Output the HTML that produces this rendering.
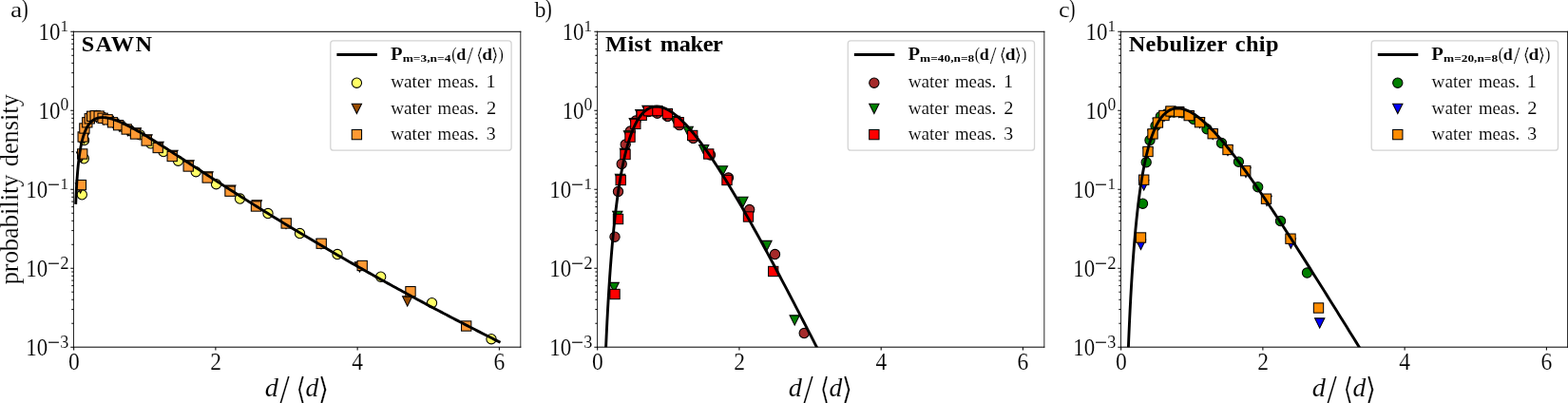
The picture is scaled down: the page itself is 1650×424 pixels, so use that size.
<!DOCTYPE html>
<html lang="en">
<head>
<meta charset="utf-8">
<title>Droplet size distributions</title>
<style>
html,body{margin:0;padding:0;background:#fff;}
body{width:1650px;height:424px;overflow:hidden;}
svg{display:block;}
text{white-space:pre;}
.t{stroke:#fff;stroke-width:0.16px;}
.u{stroke:#fff;stroke-width:0.1px;}
.v{stroke:#fff;stroke-width:0.3px;}
</style>
</head>
<body>
<svg width="1650" height="424" viewBox="0 0 1650 424" role="img" aria-label="Droplet size distributions">
<rect width="1650" height="424" fill="#fff"/>
<defs>
<clipPath id="c0"><rect x="77.5" y="33.3" width="470.3" height="331.9"/></clipPath>
<clipPath id="c1"><rect x="628.55" y="33.3" width="470.3" height="331.9"/></clipPath>
<clipPath id="c2"><rect x="1179.5" y="33.3" width="470.3" height="331.9"/></clipPath>
</defs>
<g>
<g clip-path="url(#c0)" stroke="#000" stroke-width="1.05">
<circle cx="86.3" cy="204.8" r="5.15" fill="#ffff66"/>
<circle cx="88.3" cy="166.8" r="5.15" fill="#ffff66"/>
<circle cx="88.6" cy="147.6" r="5.15" fill="#ffff66"/>
<circle cx="92.5" cy="127.2" r="5.15" fill="#ffff66"/>
<circle cx="95" cy="123.6" r="5.15" fill="#ffff66"/>
<circle cx="98" cy="121.6" r="5.15" fill="#ffff66"/>
<circle cx="101.5" cy="121.4" r="5.15" fill="#ffff66"/>
<circle cx="105.5" cy="122.3" r="5.15" fill="#ffff66"/>
<circle cx="110" cy="124.4" r="5.15" fill="#ffff66"/>
<circle cx="115.5" cy="126.6" r="5.15" fill="#ffff66"/>
<circle cx="121.5" cy="129.7" r="5.15" fill="#ffff66"/>
<circle cx="128.8" cy="133.3" r="5.15" fill="#ffff66"/>
<circle cx="137.3" cy="137.7" r="5.15" fill="#ffff66"/>
<circle cx="147.2" cy="141.8" r="5.15" fill="#ffff66"/>
<circle cx="158.7" cy="150.9" r="5.15" fill="#ffff66"/>
<circle cx="172" cy="159.5" r="5.15" fill="#ffff66"/>
<circle cx="187.5" cy="169.2" r="5.15" fill="#ffff66"/>
<circle cx="206.2" cy="180.7" r="5.15" fill="#ffff66"/>
<circle cx="227.5" cy="193.7" r="5.15" fill="#ffff66"/>
<circle cx="252.5" cy="209" r="5.15" fill="#ffff66"/>
<circle cx="282" cy="224.5" r="5.15" fill="#ffff66"/>
<circle cx="315.5" cy="245.5" r="5.15" fill="#ffff66"/>
<circle cx="355" cy="267.5" r="5.15" fill="#ffff66"/>
<circle cx="400.7" cy="291.2" r="5.15" fill="#ffff66"/>
<circle cx="454.5" cy="318.7" r="5.15" fill="#ffff66"/>
<circle cx="517" cy="356.7" r="5.15" fill="#ffff66"/>
<path d="M79.45 192.85L89.75 192.85L84.6 203.15Z" fill="#994c00"/>
<path d="M80.45 160.05L90.75 160.05L85.6 170.35Z" fill="#994c00"/>
<path d="M83.25 140.45L93.55 140.45L88.4 150.75Z" fill="#994c00"/>
<path d="M84.95 131.45L95.25 131.45L90.1 141.75Z" fill="#994c00"/>
<path d="M87.85 125.25L98.15 125.25L93 135.55Z" fill="#994c00"/>
<path d="M90.35 121.25L100.65 121.25L95.5 131.55Z" fill="#994c00"/>
<path d="M92.75 118.75L103.05 118.75L97.9 129.05Z" fill="#994c00"/>
<path d="M96.25 118.25L106.55 118.25L101.4 128.55Z" fill="#994c00"/>
<path d="M100.25 118.55L110.55 118.55L105.4 128.85Z" fill="#994c00"/>
<path d="M104.15 120.75L114.45 120.75L109.3 131.05Z" fill="#994c00"/>
<path d="M109.15 122.25L119.45 122.25L114.3 132.55Z" fill="#994c00"/>
<path d="M114.55 125.25L124.85 125.25L119.7 135.55Z" fill="#994c00"/>
<path d="M120.65 128.15L130.95 128.15L125.8 138.45Z" fill="#994c00"/>
<path d="M129.25 132.45L139.55 132.45L134.4 142.75Z" fill="#994c00"/>
<path d="M138.15 134.75L148.45 134.75L143.3 145.05Z" fill="#994c00"/>
<path d="M149.85 141.75L160.15 141.75L155 152.05Z" fill="#994c00"/>
<path d="M161.85 149.25L172.15 149.25L167 159.55Z" fill="#994c00"/>
<path d="M176.85 158.25L187.15 158.25L182 168.55Z" fill="#994c00"/>
<path d="M193.85 168.75L204.15 168.75L199 179.05Z" fill="#994c00"/>
<path d="M213.85 180.75L224.15 180.75L219 191.05Z" fill="#994c00"/>
<path d="M237.65 194.95L247.95 194.95L242.8 205.25Z" fill="#994c00"/>
<path d="M265.15 210.75L275.45 210.75L270.3 221.05Z" fill="#994c00"/>
<path d="M295.85 230.25L306.15 230.25L301 240.55Z" fill="#994c00"/>
<path d="M332.85 251.45L343.15 251.45L338 261.75Z" fill="#994c00"/>
<path d="M373.35 275.85L383.65 275.85L378.5 286.15Z" fill="#994c00"/>
<path d="M423.55 311.85L433.85 311.85L428.7 322.15Z" fill="#994c00"/>
<rect x="80.25" y="189.45" width="10.3" height="10.3" fill="#ff9933"/>
<rect x="81.55" y="156.85" width="10.3" height="10.3" fill="#ff9933"/>
<rect x="82.05" y="138.85" width="10.3" height="10.3" fill="#ff9933"/>
<rect x="83.75" y="129.85" width="10.3" height="10.3" fill="#ff9933"/>
<rect x="86.65" y="123.65" width="10.3" height="10.3" fill="#ff9933"/>
<rect x="89.15" y="119.65" width="10.3" height="10.3" fill="#ff9933"/>
<rect x="91.55" y="117.15" width="10.3" height="10.3" fill="#ff9933"/>
<rect x="95.05" y="116.65" width="10.3" height="10.3" fill="#ff9933"/>
<rect x="99.05" y="116.95" width="10.3" height="10.3" fill="#ff9933"/>
<rect x="102.95" y="119.15" width="10.3" height="10.3" fill="#ff9933"/>
<rect x="107.95" y="120.65" width="10.3" height="10.3" fill="#ff9933"/>
<rect x="113.35" y="123.65" width="10.3" height="10.3" fill="#ff9933"/>
<rect x="119.45" y="126.55" width="10.3" height="10.3" fill="#ff9933"/>
<rect x="128.05" y="130.85" width="10.3" height="10.3" fill="#ff9933"/>
<rect x="137.35" y="135.85" width="10.3" height="10.3" fill="#ff9933"/>
<rect x="149.05" y="142.85" width="10.3" height="10.3" fill="#ff9933"/>
<rect x="161.05" y="150.35" width="10.3" height="10.3" fill="#ff9933"/>
<rect x="176.05" y="159.35" width="10.3" height="10.3" fill="#ff9933"/>
<rect x="193.05" y="169.85" width="10.3" height="10.3" fill="#ff9933"/>
<rect x="213.05" y="181.85" width="10.3" height="10.3" fill="#ff9933"/>
<rect x="236.85" y="196.05" width="10.3" height="10.3" fill="#ff9933"/>
<rect x="264.35" y="211.85" width="10.3" height="10.3" fill="#ff9933"/>
<rect x="296.05" y="229.85" width="10.3" height="10.3" fill="#ff9933"/>
<rect x="333.05" y="251.05" width="10.3" height="10.3" fill="#ff9933"/>
<rect x="376.05" y="274.35" width="10.3" height="10.3" fill="#ff9933"/>
<rect x="426.85" y="301.55" width="10.3" height="10.3" fill="#ff9933"/>
<rect x="485.55" y="337.85" width="10.3" height="10.3" fill="#ff9933"/>
</g>
<polyline clip-path="url(#c0)" points="79.74,213.37 80.1,205.15 80.45,198.18 80.81,192.17 81.17,186.92 81.53,182.27 81.88,178.11 82.24,174.38 82.6,171 82.96,167.92 83.31,165.1 83.67,162.51 84.03,160.13 84.39,157.92 84.74,155.87 85.1,153.97 85.46,152.19 85.81,150.53 86.17,148.98 86.53,147.52 86.89,146.16 87.24,144.87 87.6,143.66 87.96,142.52 88.32,141.44 88.67,140.43 89.03,139.46 89.39,138.56 89.75,137.69 90.1,136.88 90.46,136.11 90.82,135.37 91.18,134.68 91.53,134.02 91.89,133.39 92.25,132.8 92.61,132.23 92.96,131.7 93.32,131.19 93.68,130.7 94.04,130.24 94.39,129.81 94.75,129.39 95.11,129 95.47,128.63 95.82,128.27 96.18,127.94 96.54,127.62 96.89,127.32 97.25,127.03 97.61,126.76 97.97,126.51 98.32,126.26 98.68,126.04 99.04,125.82 99.4,125.62 99.75,125.43 100.11,125.25 100.47,125.08 100.83,124.93 101.18,124.78 101.54,124.64 101.9,124.52 102.26,124.4 102.61,124.29 102.97,124.19 103.33,124.1 103.69,124.02 104.04,123.94 104.4,123.88 104.76,123.81 105.12,123.76 105.47,123.72 105.83,123.68 106.19,123.64 106.55,123.62 106.9,123.6 107.26,123.58 107.62,123.57 107.98,123.57 108.33,123.57 108.69,123.58 109.05,123.59 109.4,123.61 109.76,123.63 110.12,123.66 110.48,123.69 110.83,123.73 111.19,123.77 111.55,123.81 111.91,123.86 112.26,123.91 112.62,123.97 112.98,124.03 113.34,124.09 113.69,124.16 114.05,124.23 114.41,124.31 114.77,124.38 115.12,124.47 115.48,124.55 115.84,124.64 116.2,124.73 116.55,124.82 116.91,124.92 117.27,125.02 117.63,125.12 117.98,125.22 118.34,125.33 118.7,125.44 119.06,125.55 119.41,125.67 119.77,125.78 120.13,125.9 120.48,126.02 120.84,126.15 121.2,126.27 121.56,126.4 121.91,126.53 122.27,126.66 124.81,127.66 127.34,128.73 129.87,129.88 132.41,131.1 134.94,132.37 137.48,133.69 140.01,135.06 142.55,136.46 145.08,137.89 147.61,139.35 150.15,140.84 152.68,142.35 155.22,143.88 157.75,145.42 160.29,146.98 162.82,148.56 165.35,150.14 167.89,151.74 170.42,153.34 172.96,154.96 175.49,156.58 178.03,158.2 180.56,159.83 183.09,161.47 185.63,163.1 188.16,164.74 190.7,166.38 193.23,168.03 195.77,169.67 198.3,171.32 200.83,172.96 203.37,174.61 205.9,176.25 208.44,177.9 210.97,179.54 213.51,181.18 216.04,182.83 218.57,184.46 221.11,186.1 223.64,187.74 226.18,189.37 228.71,191 231.25,192.63 233.78,194.26 236.31,195.88 238.85,197.5 241.38,199.12 243.92,200.73 246.45,202.34 248.99,203.95 251.52,205.56 254.05,207.16 256.59,208.76 259.12,210.36 261.66,211.95 264.19,213.54 266.73,215.12 269.26,216.7 271.79,218.28 274.33,219.86 276.86,221.43 279.4,223 281.93,224.56 284.46,226.13 287,227.68 289.53,229.24 292.07,230.79 294.6,232.33 297.14,233.88 299.67,235.42 302.2,236.95 304.74,238.49 307.27,240.02 309.81,241.54 312.34,243.06 314.88,244.58 317.41,246.1 319.94,247.61 322.48,249.12 325.01,250.62 327.55,252.12 330.08,253.62 332.62,255.11 335.15,256.6 337.68,258.09 340.22,259.58 342.75,261.06 345.29,262.53 347.82,264.01 350.36,265.48 352.89,266.94 355.42,268.41 357.96,269.87 360.49,271.32 363.03,272.78 365.56,274.23 368.1,275.67 370.63,277.12 373.16,278.56 375.7,279.99 378.23,281.43 380.77,282.86 383.3,284.29 385.84,285.71 388.37,287.13 390.9,288.55 393.44,289.97 395.97,291.38 398.51,292.79 401.04,294.19 403.58,295.6 406.11,297 408.64,298.39 411.18,299.79 413.71,301.18 416.25,302.56 418.78,303.95 421.32,305.33 423.85,306.71 426.38,308.09 428.92,309.46 431.45,310.83 433.99,312.2 436.52,313.56 439.06,314.93 441.59,316.28 444.12,317.64 446.66,318.99 449.19,320.35 451.73,321.69 454.26,323.04 456.79,324.38 459.33,325.72 461.86,327.06 464.4,328.39 466.93,329.73 469.47,331.06 472,332.38 474.53,333.71 477.07,335.03 479.6,336.35 482.14,337.66 484.67,338.98 487.21,340.29 489.74,341.6 492.27,342.91 494.81,344.21 497.34,345.51 499.88,346.81 502.41,348.11 504.95,349.4 507.48,350.69 510.01,351.98 512.55,353.27 515.08,354.55 517.62,355.83 520.15,357.11 522.69,358.39 525.22,359.67" fill="none" stroke="#000" stroke-width="2.9" stroke-linejoin="round" stroke-linecap="square"/>
<path d="M77.5 365.2h-3.2M77.5 282.22h-3.2M77.5 199.25h-3.2M77.5 116.27h-3.2M77.5 33.3h-3.2M77.65 365.2v3.25M226.89 365.2v3.25M376.13 365.2v3.25M525.37 365.2v3.25" stroke="#000" stroke-width="1.05" fill="none"/>
<path d="M77.5 340.22h-2.2M77.5 325.61h-2.2M77.5 315.24h-2.2M77.5 307.2h-2.2M77.5 300.63h-2.2M77.5 295.08h-2.2M77.5 290.27h-2.2M77.5 286.02h-2.2M77.5 257.25h-2.2M77.5 242.64h-2.2M77.5 232.27h-2.2M77.5 224.23h-2.2M77.5 217.66h-2.2M77.5 212.1h-2.2M77.5 207.29h-2.2M77.5 203.05h-2.2M77.5 174.27h-2.2M77.5 159.66h-2.2M77.5 149.29h-2.2M77.5 141.25h-2.2M77.5 134.68h-2.2M77.5 129.13h-2.2M77.5 124.32h-2.2M77.5 120.07h-2.2M77.5 91.3h-2.2M77.5 76.69h-2.2M77.5 66.32h-2.2M77.5 58.28h-2.2M77.5 51.71h-2.2M77.5 46.15h-2.2M77.5 41.34h-2.2M77.5 37.1h-2.2" stroke="#000" stroke-width="1.0" fill="none"/>
<path d="M77.5 33.3V365.2M547.8 33.3V365.2" fill="none" stroke="#000" stroke-width="0.85" stroke-linecap="square"/>
<path d="M77.5 33.3H547.8M77.5 365.2H547.8" fill="none" stroke="#000" stroke-width="1" stroke-linecap="square"/>
<g fill="#000">
<text transform="translate(27.19 374.1) rotate(0.02) scale(0.9153 1)" class="t" font-family='"Liberation Serif", serif' font-size="25">10</text>
<text transform="translate(50.03 368.45) rotate(0.02) scale(1.3385 1.3768)" font-family='"Liberation Serif", serif' font-size="17.5">−</text>
<text transform="translate(63.23 365.62) rotate(0.02) scale(1.0375 1.0631)" class="u" font-family='"Liberation Serif", serif' font-size="17.5">3</text>
<text transform="translate(27.19 291.05) rotate(0.02) scale(0.9153 1)" class="t" font-family='"Liberation Serif", serif' font-size="25">10</text>
<text transform="translate(50.03 285.4) rotate(0.02) scale(1.3385 1.3768)" font-family='"Liberation Serif", serif' font-size="17.5">−</text>
<text transform="translate(63.28 282.75) rotate(0.02) scale(1.0691 1.0788)" class="u" font-family='"Liberation Serif", serif' font-size="17.5">2</text>
<text transform="translate(27.19 208) rotate(0.02) scale(0.9153 1)" class="t" font-family='"Liberation Serif", serif' font-size="25">10</text>
<text transform="translate(50.03 202.35) rotate(0.02) scale(1.3385 1.3768)" font-family='"Liberation Serif", serif' font-size="17.5">−</text>
<text transform="translate(63.4 198.7) rotate(0.02) scale(0.9739 0.9695)" class="u" font-family='"Liberation Serif", serif' font-size="17.5">1</text>
<text transform="translate(40.59 124.95) rotate(0.02) scale(0.9153 1)" class="t" font-family='"Liberation Serif", serif' font-size="25">10</text>
<text transform="translate(63.43 116.47) rotate(0.02) scale(1.0112 1.0585)" class="u" font-family='"Liberation Serif", serif' font-size="17.5">0</text>
<text transform="translate(40.59 41.9) rotate(0.02) scale(0.9153 1)" class="t" font-family='"Liberation Serif", serif' font-size="25">10</text>
<text transform="translate(63.4 32.6) rotate(0.02) scale(0.9739 0.9695)" class="u" font-family='"Liberation Serif", serif' font-size="17.5">1</text>
<text transform="translate(71.91 389) rotate(0.02) scale(0.9 1)" class="t" font-family='"Liberation Serif", serif' font-size="26.2">0</text>
<text transform="translate(221.28 389) rotate(0.02) scale(0.9 1)" class="t" font-family='"Liberation Serif", serif' font-size="26.2">2</text>
<text transform="translate(370.34 389) rotate(0.02) scale(0.9 1)" class="t" font-family='"Liberation Serif", serif' font-size="26.2">4</text>
<text transform="translate(519.47 389) rotate(0.02) scale(0.9 1)" class="t" font-family='"Liberation Serif", serif' font-size="26.2">6</text>
</g>
<text transform="translate(278.74 417.4) rotate(0.02) scale(1.0028 1)" class="u" font-family='"Liberation Serif", serif' font-size="28.3" font-style="italic">d</text>
<text transform="translate(294.4 423.99) rotate(0.02) scale(1.3112 1.5109)" class="u" font-family='"Liberation Serif", serif' font-size="28">/</text>
<text transform="translate(311.61 420.21) rotate(0.02) scale(0.9547 1.1348)" class="v" font-family='"DejaVu Sans", sans-serif' font-size="28">⟨</text>
<text transform="translate(321.57 417.4) rotate(0.02) scale(0.9729 1)" class="u" font-family='"Liberation Serif", serif' font-size="28.3" font-style="italic">d</text>
<text transform="translate(334.68 420.21) rotate(0.02) scale(1.0357 1.1348)" class="v" font-family='"DejaVu Sans", sans-serif' font-size="28">⟩</text>
<text transform="translate(85.7 53.55) rotate(0.02) scale(1.04 1)" font-family='"Liberation Serif", serif' font-size="23.4" font-weight="bold" letter-spacing="1.31">SAWN</text>
<text transform="translate(10.93 17.77) rotate(0.02) scale(1.1997 1.0075)" class="t" font-family='"Liberation Serif", serif' font-size="23">a</text>
<text transform="translate(22.48 17.82) rotate(0.02) scale(0.9247 1.1304)" class="t" font-family='"Liberation Serif", serif' font-size="24">)</text>
<rect x="347.8" y="42.9" width="190.3" height="115.3" rx="3" fill="#fff" fill-opacity="0.8" stroke="#d4d4d4" stroke-width="1.3"/>
<path d="M354.4 57.5h42.5" stroke="#000" stroke-width="3" fill="none"/>
<g stroke="#000" stroke-width="1.05">
<circle cx="375.4" cy="87.2" r="5.15" fill="#ffff66"/>
<path d="M370.25 109.25L380.55 109.25L375.4 119.55Z" fill="#994c00"/>
<rect x="370.25" y="136.45" width="10.3" height="10.3" fill="#ff9933"/>
</g>
<text transform="translate(410.95 62.6) rotate(0.02) scale(1.1369 1)" class="u" font-family='"Liberation Serif", serif' font-size="18.2" font-weight="bold">P</text>
<text transform="translate(423.64 64.8) rotate(0.02) scale(1.271 1)" font-family='"Liberation Serif", serif' font-size="10.6" font-weight="bold">m=3,n=4</text>
<text transform="translate(475.3 62.91) rotate(0.02) scale(0.939 1.1029)" class="u" font-family='"Liberation Serif", serif' font-size="17">(</text>
<text transform="translate(480.27 62.6) rotate(0.02) scale(1.0429 1)" class="u" font-family='"Liberation Serif", serif' font-size="17.3" font-weight="bold">d</text>
<text transform="translate(491.3 66.65) rotate(0.02) scale(1.4185 1.4949)" class="u" font-family='"Liberation Serif", serif' font-size="17">/</text>
<text transform="translate(501.12 64.38) rotate(0.02) scale(1.1727 1.1228)" class="v" font-family='"DejaVu Sans", sans-serif' font-size="17">⟨</text>
<text transform="translate(507.21 62.6) rotate(0.02) scale(1.1231 1)" class="u" font-family='"Liberation Serif", serif' font-size="17.3" font-weight="bold">d</text>
<text transform="translate(516.77 64.38) rotate(0.02) scale(1.1994 1.1228)" class="v" font-family='"DejaVu Sans", sans-serif' font-size="17">⟩</text>
<text transform="translate(524.59 62.91) rotate(0.02) scale(0.939 1.1029)" class="u" font-family='"Liberation Serif", serif' font-size="17">)</text>
<text transform="translate(411.18 92.35) rotate(0.02) scale(0.9909 1)" class="u" font-family='"Liberation Serif", serif' font-size="19.4">water</text>
<text transform="translate(460.51 92.35) rotate(0.02) scale(0.9692 1)" class="u" font-family='"Liberation Serif", serif' font-size="19.4">meas.</text>
<text transform="translate(511.43 92.35) rotate(0.02) scale(1.0396 1)" class="u" font-family='"Liberation Serif", serif' font-size="19.4">1</text>
<text transform="translate(411.18 119.75) rotate(0.02) scale(0.9909 1)" class="u" font-family='"Liberation Serif", serif' font-size="19.4">water</text>
<text transform="translate(460.51 119.75) rotate(0.02) scale(0.9692 1)" class="u" font-family='"Liberation Serif", serif' font-size="19.4">meas.</text>
<text transform="translate(511.9 119.75) rotate(0.02) scale(1.0544 1)" class="u" font-family='"Liberation Serif", serif' font-size="19.4">2</text>
<text transform="translate(411.18 147.25) rotate(0.02) scale(0.9909 1)" class="u" font-family='"Liberation Serif", serif' font-size="19.4">water</text>
<text transform="translate(460.51 147.25) rotate(0.02) scale(0.9692 1)" class="u" font-family='"Liberation Serif", serif' font-size="19.4">meas.</text>
<text transform="translate(511.85 147.25) rotate(0.02) scale(1.0232 1)" class="u" font-family='"Liberation Serif", serif' font-size="19.4">3</text>
</g>
<g>
<g clip-path="url(#c1)" stroke="#000" stroke-width="1.05">
<circle cx="647" cy="249.2" r="5.15" fill="#a52a2a"/>
<circle cx="650.5" cy="201.5" r="5.15" fill="#a52a2a"/>
<circle cx="654.2" cy="172.5" r="5.15" fill="#a52a2a"/>
<circle cx="658.2" cy="152" r="5.15" fill="#a52a2a"/>
<circle cx="663.3" cy="138" r="5.15" fill="#a52a2a"/>
<circle cx="669" cy="127" r="5.15" fill="#a52a2a"/>
<circle cx="675" cy="120.6" r="5.15" fill="#a52a2a"/>
<circle cx="682.5" cy="117.6" r="5.15" fill="#a52a2a"/>
<circle cx="691.7" cy="119.2" r="5.15" fill="#a52a2a"/>
<circle cx="702.5" cy="122.5" r="5.15" fill="#a52a2a"/>
<circle cx="715" cy="131.7" r="5.15" fill="#a52a2a"/>
<circle cx="729.5" cy="145.5" r="5.15" fill="#a52a2a"/>
<circle cx="747.5" cy="163" r="5.15" fill="#a52a2a"/>
<circle cx="766.5" cy="187" r="5.15" fill="#a52a2a"/>
<circle cx="788.7" cy="220.5" r="5.15" fill="#a52a2a"/>
<circle cx="815.5" cy="267.5" r="5.15" fill="#a52a2a"/>
<circle cx="846.2" cy="350.5" r="5.15" fill="#a52a2a"/>
<path d="M641.05 297.35L651.35 297.35L646.2 307.65Z" fill="#008000"/>
<path d="M644.65 222.15L654.95 222.15L649.8 232.45Z" fill="#008000"/>
<path d="M647.35 183.25L657.65 183.25L652.5 193.55Z" fill="#008000"/>
<path d="M652.35 156.35L662.65 156.35L657.5 166.65Z" fill="#008000"/>
<path d="M656.35 137.85L666.65 137.85L661.5 148.15Z" fill="#008000"/>
<path d="M662.15 124.45L672.45 124.45L667.3 134.75Z" fill="#008000"/>
<path d="M668.65 115.55L678.95 115.55L673.8 125.85Z" fill="#008000"/>
<path d="M675.85 111.15L686.15 111.15L681 121.45Z" fill="#008000"/>
<path d="M685.85 112.05L696.15 112.05L691 122.35Z" fill="#008000"/>
<path d="M695.15 115.65L705.45 115.65L700.3 125.95Z" fill="#008000"/>
<path d="M705.35 122.35L715.65 122.35L710.5 132.65Z" fill="#008000"/>
<path d="M719.05 133.15L729.35 133.15L724.2 143.45Z" fill="#008000"/>
<path d="M735.55 152.45L745.85 152.45L740.7 162.75Z" fill="#008000"/>
<path d="M755.35 174.65L765.65 174.65L760.5 184.95Z" fill="#008000"/>
<path d="M776.75 207.25L787.05 207.25L781.9 217.55Z" fill="#008000"/>
<path d="M801.85 253.35L812.15 253.35L807 263.65Z" fill="#008000"/>
<path d="M831.05 331.85L841.35 331.85L836.2 342.15Z" fill="#008000"/>
<rect x="641.85" y="304.35" width="10.3" height="10.3" fill="#ff0000"/>
<rect x="645.35" y="225.35" width="10.3" height="10.3" fill="#ff0000"/>
<rect x="648.05" y="184.35" width="10.3" height="10.3" fill="#ff0000"/>
<rect x="652.85" y="157.35" width="10.3" height="10.3" fill="#ff0000"/>
<rect x="657.85" y="139.05" width="10.3" height="10.3" fill="#ff0000"/>
<rect x="663.65" y="125.25" width="10.3" height="10.3" fill="#ff0000"/>
<rect x="670.05" y="116.15" width="10.3" height="10.3" fill="#ff0000"/>
<rect x="677.35" y="111.55" width="10.3" height="10.3" fill="#ff0000"/>
<rect x="686.75" y="111.45" width="10.3" height="10.3" fill="#ff0000"/>
<rect x="697.25" y="114.45" width="10.3" height="10.3" fill="#ff0000"/>
<rect x="709.05" y="123.55" width="10.3" height="10.3" fill="#ff0000"/>
<rect x="723.55" y="137.35" width="10.3" height="10.3" fill="#ff0000"/>
<rect x="740.55" y="156.85" width="10.3" height="10.3" fill="#ff0000"/>
<rect x="759.85" y="184.35" width="10.3" height="10.3" fill="#ff0000"/>
<rect x="782.35" y="222.85" width="10.3" height="10.3" fill="#ff0000"/>
<rect x="808.55" y="280.35" width="10.3" height="10.3" fill="#ff0000"/>
</g>
<polyline clip-path="url(#c1)" points="636.07,404.61 636.42,394.97 636.76,385.81 637.11,377.09 637.45,368.78 637.8,360.85 638.14,353.26 638.49,346 638.83,339.04 639.18,332.37 639.52,325.95 639.87,319.79 640.21,313.85 640.56,308.14 640.9,302.63 641.25,297.31 641.59,292.18 641.94,287.22 642.28,282.43 642.63,277.79 642.97,273.31 643.32,268.96 643.66,264.76 644.01,260.68 644.35,256.72 644.7,252.88 645.04,249.16 645.39,245.54 645.73,242.03 646.08,238.62 646.42,235.3 646.77,232.08 647.11,228.94 647.46,225.89 647.8,222.92 648.15,220.03 648.49,217.21 648.84,214.47 649.18,211.8 649.53,209.2 649.87,206.66 650.21,204.19 650.56,201.78 650.9,199.43 651.25,197.14 651.59,194.91 651.94,192.73 652.28,190.6 652.63,188.53 652.97,186.5 653.32,184.52 653.66,182.59 654.01,180.71 654.35,178.87 654.7,177.07 655.04,175.32 655.39,173.6 655.73,171.93 656.08,170.29 656.42,168.7 656.77,167.14 657.11,165.61 657.46,164.12 657.8,162.67 658.15,161.25 658.49,159.86 658.84,158.5 659.18,157.17 659.53,155.87 659.87,154.61 660.22,153.37 660.56,152.16 660.91,150.98 661.25,149.82 661.6,148.69 661.94,147.59 662.29,146.51 662.63,145.46 662.98,144.43 663.32,143.43 663.67,142.44 664.01,141.48 664.36,140.55 664.7,139.63 665.04,138.74 665.39,137.87 665.73,137.01 666.08,136.18 666.42,135.37 666.77,134.58 667.11,133.8 667.46,133.05 667.8,132.31 668.15,131.59 668.49,130.89 668.84,130.2 669.18,129.54 669.53,128.88 669.87,128.25 670.22,127.63 670.56,127.03 670.91,126.44 671.25,125.87 671.6,125.31 671.94,124.77 672.29,124.24 672.63,123.73 672.98,123.23 673.32,122.74 675.86,119.58 678.39,117.05 680.92,115.11 683.46,113.69 685.99,112.74 688.53,112.2 691.06,112.05 693.6,112.26 696.13,112.78 698.66,113.59 701.2,114.67 703.73,116 706.27,117.56 708.8,119.32 711.34,121.29 713.87,123.43 716.4,125.75 718.94,128.22 721.47,130.84 724.01,133.6 726.54,136.48 729.08,139.48 731.61,142.6 734.14,145.82 736.68,149.14 739.21,152.56 741.75,156.06 744.28,159.65 746.82,163.31 749.35,167.04 751.88,170.85 754.42,174.72 756.95,178.66 759.49,182.65 762.02,186.7 764.56,190.8 767.09,194.95 769.62,199.14 772.16,203.38 774.69,207.67 777.23,211.99 779.76,216.35 782.3,220.75 784.83,225.19 787.36,229.65 789.9,234.15 792.43,238.67 794.97,243.23 797.5,247.81 800.04,252.42 802.57,257.05 805.1,261.7 807.64,266.37 810.17,271.07 812.71,275.78 815.24,280.52 817.78,285.27 820.31,290.04 822.84,294.82 825.38,299.62 827.91,304.43 830.45,309.26 832.98,314.1 835.51,318.95 838.05,323.82 840.58,328.69 843.12,333.58 845.65,338.47 848.19,343.38 850.72,348.29 853.25,353.21 855.79,358.14 858.32,363.08 860.86,368.03 863.39,372.98 865.93,377.93 868.46,382.9 870.99,387.86 873.53,392.84 876.06,397.82 878.6,402.8" fill="none" stroke="#000" stroke-width="2.9" stroke-linejoin="round" stroke-linecap="square"/>
<path d="M628.55 365.2h-3.2M628.55 282.22h-3.2M628.55 199.25h-3.2M628.55 116.27h-3.2M628.55 33.3h-3.2M628.7 365.2v3.25M777.94 365.2v3.25M927.18 365.2v3.25M1076.42 365.2v3.25" stroke="#000" stroke-width="1.05" fill="none"/>
<path d="M628.55 340.22h-2.2M628.55 325.61h-2.2M628.55 315.24h-2.2M628.55 307.2h-2.2M628.55 300.63h-2.2M628.55 295.08h-2.2M628.55 290.27h-2.2M628.55 286.02h-2.2M628.55 257.25h-2.2M628.55 242.64h-2.2M628.55 232.27h-2.2M628.55 224.23h-2.2M628.55 217.66h-2.2M628.55 212.1h-2.2M628.55 207.29h-2.2M628.55 203.05h-2.2M628.55 174.27h-2.2M628.55 159.66h-2.2M628.55 149.29h-2.2M628.55 141.25h-2.2M628.55 134.68h-2.2M628.55 129.13h-2.2M628.55 124.32h-2.2M628.55 120.07h-2.2M628.55 91.3h-2.2M628.55 76.69h-2.2M628.55 66.32h-2.2M628.55 58.28h-2.2M628.55 51.71h-2.2M628.55 46.15h-2.2M628.55 41.34h-2.2M628.55 37.1h-2.2" stroke="#000" stroke-width="1.0" fill="none"/>
<path d="M628.55 33.3V365.2M1098.85 33.3V365.2" fill="none" stroke="#000" stroke-width="0.85" stroke-linecap="square"/>
<path d="M628.55 33.3H1098.85M628.55 365.2H1098.85" fill="none" stroke="#000" stroke-width="1" stroke-linecap="square"/>
<g fill="#000">
<text transform="translate(578.24 374.1) rotate(0.02) scale(0.9153 1)" class="t" font-family='"Liberation Serif", serif' font-size="25">10</text>
<text transform="translate(601.08 368.45) rotate(0.02) scale(1.3385 1.3768)" font-family='"Liberation Serif", serif' font-size="17.5">−</text>
<text transform="translate(614.28 365.62) rotate(0.02) scale(1.0375 1.0631)" class="u" font-family='"Liberation Serif", serif' font-size="17.5">3</text>
<text transform="translate(578.24 291.05) rotate(0.02) scale(0.9153 1)" class="t" font-family='"Liberation Serif", serif' font-size="25">10</text>
<text transform="translate(601.08 285.4) rotate(0.02) scale(1.3385 1.3768)" font-family='"Liberation Serif", serif' font-size="17.5">−</text>
<text transform="translate(614.33 282.75) rotate(0.02) scale(1.0691 1.0788)" class="u" font-family='"Liberation Serif", serif' font-size="17.5">2</text>
<text transform="translate(578.24 208) rotate(0.02) scale(0.9153 1)" class="t" font-family='"Liberation Serif", serif' font-size="25">10</text>
<text transform="translate(601.08 202.35) rotate(0.02) scale(1.3385 1.3768)" font-family='"Liberation Serif", serif' font-size="17.5">−</text>
<text transform="translate(614.45 198.7) rotate(0.02) scale(0.9739 0.9695)" class="u" font-family='"Liberation Serif", serif' font-size="17.5">1</text>
<text transform="translate(591.64 124.95) rotate(0.02) scale(0.9153 1)" class="t" font-family='"Liberation Serif", serif' font-size="25">10</text>
<text transform="translate(614.48 116.47) rotate(0.02) scale(1.0112 1.0585)" class="u" font-family='"Liberation Serif", serif' font-size="17.5">0</text>
<text transform="translate(591.64 41.9) rotate(0.02) scale(0.9153 1)" class="t" font-family='"Liberation Serif", serif' font-size="25">10</text>
<text transform="translate(614.45 32.6) rotate(0.02) scale(0.9739 0.9695)" class="u" font-family='"Liberation Serif", serif' font-size="17.5">1</text>
<text transform="translate(622.95 389) rotate(0.02) scale(0.9 1)" class="t" font-family='"Liberation Serif", serif' font-size="26.2">0</text>
<text transform="translate(772.33 389) rotate(0.02) scale(0.9 1)" class="t" font-family='"Liberation Serif", serif' font-size="26.2">2</text>
<text transform="translate(921.39 389) rotate(0.02) scale(0.9 1)" class="t" font-family='"Liberation Serif", serif' font-size="26.2">4</text>
<text transform="translate(1070.52 389) rotate(0.02) scale(0.9 1)" class="t" font-family='"Liberation Serif", serif' font-size="26.2">6</text>
</g>
<text transform="translate(829.79 417.4) rotate(0.02) scale(1.0028 1)" class="u" font-family='"Liberation Serif", serif' font-size="28.3" font-style="italic">d</text>
<text transform="translate(845.45 423.99) rotate(0.02) scale(1.3112 1.5109)" class="u" font-family='"Liberation Serif", serif' font-size="28">/</text>
<text transform="translate(862.66 420.21) rotate(0.02) scale(0.9547 1.1348)" class="v" font-family='"DejaVu Sans", sans-serif' font-size="28">⟨</text>
<text transform="translate(872.62 417.4) rotate(0.02) scale(0.9729 1)" class="u" font-family='"Liberation Serif", serif' font-size="28.3" font-style="italic">d</text>
<text transform="translate(885.73 420.21) rotate(0.02) scale(1.0357 1.1348)" class="v" font-family='"DejaVu Sans", sans-serif' font-size="28">⟩</text>
<text transform="translate(637.08 53.55) rotate(0.02) scale(1.04 1)" font-family='"Liberation Serif", serif' font-size="23.4" font-weight="bold" letter-spacing="0.36">Mist</text>
<text transform="translate(694.75 53.55) rotate(0.02) scale(1.04 1)" font-family='"Liberation Serif", serif' font-size="23.4" font-weight="bold" letter-spacing="-0.34">maker</text>
<text transform="translate(562.5 17.97) rotate(0.02) scale(1.0448 1.0443)" class="t" font-family='"Liberation Serif", serif' font-size="23">b</text>
<text transform="translate(573.58 17.82) rotate(0.02) scale(0.9247 1.1304)" class="t" font-family='"Liberation Serif", serif' font-size="24">)</text>
<rect x="892.25" y="42.9" width="196.3" height="115.3" rx="3" fill="#fff" fill-opacity="0.8" stroke="#d4d4d4" stroke-width="1.3"/>
<path d="M898.85 57.5h42.5" stroke="#000" stroke-width="3" fill="none"/>
<g stroke="#000" stroke-width="1.05">
<circle cx="919.85" cy="87.2" r="5.15" fill="#a52a2a"/>
<path d="M914.7 109.25L925 109.25L919.85 119.55Z" fill="#008000"/>
<rect x="914.7" y="136.45" width="10.3" height="10.3" fill="#ff0000"/>
</g>
<text transform="translate(955.4 62.6) rotate(0.02) scale(1.1369 1)" class="u" font-family='"Liberation Serif", serif' font-size="18.2" font-weight="bold">P</text>
<text transform="translate(968.09 64.8) rotate(0.02) scale(1.259 1)" font-family='"Liberation Serif", serif' font-size="10.6" font-weight="bold">m=40,n=8</text>
<text transform="translate(1025.75 62.91) rotate(0.02) scale(0.939 1.1029)" class="u" font-family='"Liberation Serif", serif' font-size="17">(</text>
<text transform="translate(1030.72 62.6) rotate(0.02) scale(1.0429 1)" class="u" font-family='"Liberation Serif", serif' font-size="17.3" font-weight="bold">d</text>
<text transform="translate(1041.75 66.65) rotate(0.02) scale(1.4185 1.4949)" class="u" font-family='"Liberation Serif", serif' font-size="17">/</text>
<text transform="translate(1051.57 64.38) rotate(0.02) scale(1.1727 1.1228)" class="v" font-family='"DejaVu Sans", sans-serif' font-size="17">⟨</text>
<text transform="translate(1057.66 62.6) rotate(0.02) scale(1.1231 1)" class="u" font-family='"Liberation Serif", serif' font-size="17.3" font-weight="bold">d</text>
<text transform="translate(1067.22 64.38) rotate(0.02) scale(1.1994 1.1228)" class="v" font-family='"DejaVu Sans", sans-serif' font-size="17">⟩</text>
<text transform="translate(1075.04 62.91) rotate(0.02) scale(0.939 1.1029)" class="u" font-family='"Liberation Serif", serif' font-size="17">)</text>
<text transform="translate(955.63 92.35) rotate(0.02) scale(0.9909 1)" class="u" font-family='"Liberation Serif", serif' font-size="19.4">water</text>
<text transform="translate(1004.96 92.35) rotate(0.02) scale(0.9692 1)" class="u" font-family='"Liberation Serif", serif' font-size="19.4">meas.</text>
<text transform="translate(1055.88 92.35) rotate(0.02) scale(1.0396 1)" class="u" font-family='"Liberation Serif", serif' font-size="19.4">1</text>
<text transform="translate(955.63 119.75) rotate(0.02) scale(0.9909 1)" class="u" font-family='"Liberation Serif", serif' font-size="19.4">water</text>
<text transform="translate(1004.96 119.75) rotate(0.02) scale(0.9692 1)" class="u" font-family='"Liberation Serif", serif' font-size="19.4">meas.</text>
<text transform="translate(1056.35 119.75) rotate(0.02) scale(1.0544 1)" class="u" font-family='"Liberation Serif", serif' font-size="19.4">2</text>
<text transform="translate(955.63 147.25) rotate(0.02) scale(0.9909 1)" class="u" font-family='"Liberation Serif", serif' font-size="19.4">water</text>
<text transform="translate(1004.96 147.25) rotate(0.02) scale(0.9692 1)" class="u" font-family='"Liberation Serif", serif' font-size="19.4">meas.</text>
<text transform="translate(1056.3 147.25) rotate(0.02) scale(1.0232 1)" class="u" font-family='"Liberation Serif", serif' font-size="19.4">3</text>
</g>
<g>
<g clip-path="url(#c2)" stroke="#000" stroke-width="1.05">
<circle cx="1202.5" cy="214.2" r="5.15" fill="#008000"/>
<circle cx="1206.2" cy="170.7" r="5.15" fill="#008000"/>
<circle cx="1210" cy="147.5" r="5.15" fill="#008000"/>
<circle cx="1216" cy="132.6" r="5.15" fill="#008000"/>
<circle cx="1221.3" cy="122.6" r="5.15" fill="#008000"/>
<circle cx="1228" cy="119.6" r="5.15" fill="#008000"/>
<circle cx="1235" cy="118" r="5.15" fill="#008000"/>
<circle cx="1244" cy="118.8" r="5.15" fill="#008000"/>
<circle cx="1256.2" cy="125.5" r="5.15" fill="#008000"/>
<circle cx="1270" cy="135.7" r="5.15" fill="#008000"/>
<circle cx="1285.5" cy="150.5" r="5.15" fill="#008000"/>
<circle cx="1303.4" cy="170.2" r="5.15" fill="#008000"/>
<circle cx="1323.7" cy="196.7" r="5.15" fill="#008000"/>
<circle cx="1347.5" cy="232.5" r="5.15" fill="#008000"/>
<circle cx="1375.5" cy="287" r="5.15" fill="#008000"/>
<path d="M1195.35 252.35L1205.65 252.35L1200.5 262.65Z" fill="#0000ff"/>
<path d="M1198.55 189.85L1208.85 189.85L1203.7 200.15Z" fill="#0000ff"/>
<path d="M1202.85 155.85L1213.15 155.85L1208 166.15Z" fill="#0000ff"/>
<path d="M1207.85 136.65L1218.15 136.65L1213 146.95Z" fill="#0000ff"/>
<path d="M1213.25 124.75L1223.55 124.75L1218.4 135.05Z" fill="#0000ff"/>
<path d="M1219.85 117.25L1230.15 117.25L1225 127.55Z" fill="#0000ff"/>
<path d="M1226.85 112.75L1237.15 112.75L1232 123.05Z" fill="#0000ff"/>
<path d="M1235.45 113.35L1245.75 113.35L1240.6 123.65Z" fill="#0000ff"/>
<path d="M1246.05 117.35L1256.35 117.35L1251.2 127.65Z" fill="#0000ff"/>
<path d="M1257.35 124.35L1267.65 124.35L1262.5 134.65Z" fill="#0000ff"/>
<path d="M1271.05 136.35L1281.35 136.35L1276.2 146.65Z" fill="#0000ff"/>
<path d="M1286.85 153.35L1297.15 153.35L1292 163.65Z" fill="#0000ff"/>
<path d="M1305.85 176.35L1316.15 176.35L1311 186.65Z" fill="#0000ff"/>
<path d="M1327.85 206.35L1338.15 206.35L1333 216.65Z" fill="#0000ff"/>
<path d="M1353.25 251.05L1363.55 251.05L1358.4 261.35Z" fill="#0000ff"/>
<path d="M1383.55 334.85L1393.85 334.85L1388.7 345.15Z" fill="#0000ff"/>
<rect x="1195.35" y="244.85" width="10.3" height="10.3" fill="#ff8c00"/>
<rect x="1198.55" y="184.05" width="10.3" height="10.3" fill="#ff8c00"/>
<rect x="1202.85" y="154.35" width="10.3" height="10.3" fill="#ff8c00"/>
<rect x="1207.85" y="135.75" width="10.3" height="10.3" fill="#ff8c00"/>
<rect x="1213.25" y="123.85" width="10.3" height="10.3" fill="#ff8c00"/>
<rect x="1219.85" y="116.35" width="10.3" height="10.3" fill="#ff8c00"/>
<rect x="1226.85" y="111.85" width="10.3" height="10.3" fill="#ff8c00"/>
<rect x="1235.45" y="112.45" width="10.3" height="10.3" fill="#ff8c00"/>
<rect x="1246.05" y="116.45" width="10.3" height="10.3" fill="#ff8c00"/>
<rect x="1257.35" y="123.55" width="10.3" height="10.3" fill="#ff8c00"/>
<rect x="1271.05" y="135.55" width="10.3" height="10.3" fill="#ff8c00"/>
<rect x="1286.85" y="152.35" width="10.3" height="10.3" fill="#ff8c00"/>
<rect x="1305.55" y="174.55" width="10.3" height="10.3" fill="#ff8c00"/>
<rect x="1327.35" y="204.05" width="10.3" height="10.3" fill="#ff8c00"/>
<rect x="1352.85" y="246.05" width="10.3" height="10.3" fill="#ff8c00"/>
<rect x="1382.35" y="318.85" width="10.3" height="10.3" fill="#ff8c00"/>
</g>
<polyline clip-path="url(#c2)" points="1186.33,395.59 1186.68,385.34 1187.02,375.65 1187.37,366.49 1187.71,357.81 1188.06,349.56 1188.4,341.71 1188.75,334.23 1189.09,327.09 1189.44,320.27 1189.78,313.75 1190.13,307.5 1190.47,301.51 1190.82,295.75 1191.16,290.23 1191.51,284.92 1191.85,279.8 1192.2,274.88 1192.54,270.13 1192.89,265.56 1193.23,261.14 1193.58,256.88 1193.92,252.76 1194.27,248.77 1194.61,244.92 1194.96,241.19 1195.3,237.58 1195.65,234.09 1195.99,230.7 1196.34,227.41 1196.68,224.23 1197.03,221.14 1197.37,218.14 1197.72,215.23 1198.06,212.4 1198.41,209.66 1198.75,206.99 1199.1,204.4 1199.44,201.88 1199.79,199.43 1200.13,197.04 1200.48,194.72 1200.82,192.47 1201.16,190.27 1201.51,188.13 1201.85,186.05 1202.2,184.03 1202.54,182.05 1202.89,180.13 1203.23,178.26 1203.58,176.43 1203.92,174.65 1204.27,172.92 1204.61,171.23 1204.96,169.59 1205.3,167.98 1205.65,166.42 1205.99,164.89 1206.34,163.4 1206.68,161.95 1207.03,160.54 1207.37,159.16 1207.72,157.81 1208.06,156.5 1208.41,155.22 1208.75,153.97 1209.1,152.75 1209.44,151.56 1209.79,150.4 1210.13,149.27 1210.48,148.17 1210.82,147.09 1211.17,146.04 1211.51,145.02 1211.86,144.02 1212.2,143.04 1212.55,142.09 1212.89,141.17 1213.24,140.26 1213.58,139.38 1213.93,138.52 1214.27,137.68 1214.62,136.87 1214.96,136.07 1215.31,135.29 1215.65,134.53 1215.99,133.8 1216.34,133.08 1216.68,132.38 1217.03,131.69 1217.37,131.03 1217.72,130.38 1218.06,129.75 1218.41,129.14 1218.75,128.54 1219.1,127.96 1219.44,127.39 1219.79,126.84 1220.13,126.31 1220.48,125.79 1220.82,125.28 1221.17,124.79 1221.51,124.31 1221.86,123.85 1222.2,123.4 1222.55,122.96 1222.89,122.53 1223.24,122.12 1223.58,121.72 1223.93,121.34 1224.27,120.96 1226.81,118.56 1229.34,116.72 1231.87,115.39 1234.41,114.5 1236.94,114.01 1239.48,113.88 1242.01,114.08 1244.55,114.57 1247.08,115.32 1249.61,116.32 1252.15,117.53 1254.68,118.95 1257.22,120.56 1259.75,122.33 1262.29,124.27 1264.82,126.35 1267.35,128.56 1269.89,130.89 1272.42,133.34 1274.96,135.9 1277.49,138.56 1280.03,141.3 1282.56,144.14 1285.09,147.05 1287.63,150.04 1290.16,153.1 1292.7,156.23 1295.23,159.41 1297.77,162.66 1300.3,165.95 1302.83,169.3 1305.37,172.7 1307.9,176.13 1310.44,179.61 1312.97,183.13 1315.51,186.69 1318.04,190.28 1320.57,193.9 1323.11,197.56 1325.64,201.24 1328.18,204.95 1330.71,208.68 1333.25,212.44 1335.78,216.22 1338.31,220.02 1340.85,223.85 1343.38,227.69 1345.92,231.55 1348.45,235.42 1350.99,239.31 1353.52,243.22 1356.05,247.13 1358.59,251.07 1361.12,255.01 1363.66,258.96 1366.19,262.93 1368.73,266.9 1371.26,270.89 1373.79,274.88 1376.33,278.88 1378.86,282.89 1381.4,286.91 1383.93,290.93 1386.46,294.96 1389,298.99 1391.53,303.03 1394.07,307.07 1396.6,311.12 1399.14,315.17 1401.67,319.22 1404.2,323.28 1406.74,327.34 1409.27,331.4 1411.81,335.47 1414.34,339.53 1416.88,343.6 1419.41,347.67 1421.94,351.74 1424.48,355.82 1427.01,359.89 1429.55,363.96 1432.08,368.04 1434.62,372.11 1437.15,376.18 1439.68,380.26 1442.22,384.33 1444.75,388.4 1447.29,392.47 1449.82,396.54 1452.36,400.61 1454.89,404.68" fill="none" stroke="#000" stroke-width="2.9" stroke-linejoin="round" stroke-linecap="square"/>
<path d="M1179.5 365.2h-3.2M1179.5 282.22h-3.2M1179.5 199.25h-3.2M1179.5 116.27h-3.2M1179.5 33.3h-3.2M1179.65 365.2v3.25M1328.89 365.2v3.25M1478.13 365.2v3.25M1627.37 365.2v3.25" stroke="#000" stroke-width="1.05" fill="none"/>
<path d="M1179.5 340.22h-2.2M1179.5 325.61h-2.2M1179.5 315.24h-2.2M1179.5 307.2h-2.2M1179.5 300.63h-2.2M1179.5 295.08h-2.2M1179.5 290.27h-2.2M1179.5 286.02h-2.2M1179.5 257.25h-2.2M1179.5 242.64h-2.2M1179.5 232.27h-2.2M1179.5 224.23h-2.2M1179.5 217.66h-2.2M1179.5 212.1h-2.2M1179.5 207.29h-2.2M1179.5 203.05h-2.2M1179.5 174.27h-2.2M1179.5 159.66h-2.2M1179.5 149.29h-2.2M1179.5 141.25h-2.2M1179.5 134.68h-2.2M1179.5 129.13h-2.2M1179.5 124.32h-2.2M1179.5 120.07h-2.2M1179.5 91.3h-2.2M1179.5 76.69h-2.2M1179.5 66.32h-2.2M1179.5 58.28h-2.2M1179.5 51.71h-2.2M1179.5 46.15h-2.2M1179.5 41.34h-2.2M1179.5 37.1h-2.2" stroke="#000" stroke-width="1.0" fill="none"/>
<path d="M1179.5 33.3V365.2M1649.55 33.3V365.2" fill="none" stroke="#000" stroke-width="0.85" stroke-linecap="square"/>
<path d="M1179.5 33.3H1649.55M1179.5 365.2H1649.55" fill="none" stroke="#000" stroke-width="1" stroke-linecap="square"/>
<g fill="#000">
<text transform="translate(1129.19 374.1) rotate(0.02) scale(0.9153 1)" class="t" font-family='"Liberation Serif", serif' font-size="25">10</text>
<text transform="translate(1152.03 368.45) rotate(0.02) scale(1.3385 1.3768)" font-family='"Liberation Serif", serif' font-size="17.5">−</text>
<text transform="translate(1165.23 365.62) rotate(0.02) scale(1.0375 1.0631)" class="u" font-family='"Liberation Serif", serif' font-size="17.5">3</text>
<text transform="translate(1129.19 291.05) rotate(0.02) scale(0.9153 1)" class="t" font-family='"Liberation Serif", serif' font-size="25">10</text>
<text transform="translate(1152.03 285.4) rotate(0.02) scale(1.3385 1.3768)" font-family='"Liberation Serif", serif' font-size="17.5">−</text>
<text transform="translate(1165.28 282.75) rotate(0.02) scale(1.0691 1.0788)" class="u" font-family='"Liberation Serif", serif' font-size="17.5">2</text>
<text transform="translate(1129.19 208) rotate(0.02) scale(0.9153 1)" class="t" font-family='"Liberation Serif", serif' font-size="25">10</text>
<text transform="translate(1152.03 202.35) rotate(0.02) scale(1.3385 1.3768)" font-family='"Liberation Serif", serif' font-size="17.5">−</text>
<text transform="translate(1165.4 198.7) rotate(0.02) scale(0.9739 0.9695)" class="u" font-family='"Liberation Serif", serif' font-size="17.5">1</text>
<text transform="translate(1142.59 124.95) rotate(0.02) scale(0.9153 1)" class="t" font-family='"Liberation Serif", serif' font-size="25">10</text>
<text transform="translate(1165.43 116.47) rotate(0.02) scale(1.0112 1.0585)" class="u" font-family='"Liberation Serif", serif' font-size="17.5">0</text>
<text transform="translate(1142.59 41.9) rotate(0.02) scale(0.9153 1)" class="t" font-family='"Liberation Serif", serif' font-size="25">10</text>
<text transform="translate(1165.4 32.6) rotate(0.02) scale(0.9739 0.9695)" class="u" font-family='"Liberation Serif", serif' font-size="17.5">1</text>
<text transform="translate(1173.9 389) rotate(0.02) scale(0.9 1)" class="t" font-family='"Liberation Serif", serif' font-size="26.2">0</text>
<text transform="translate(1323.28 389) rotate(0.02) scale(0.9 1)" class="t" font-family='"Liberation Serif", serif' font-size="26.2">2</text>
<text transform="translate(1472.34 389) rotate(0.02) scale(0.9 1)" class="t" font-family='"Liberation Serif", serif' font-size="26.2">4</text>
<text transform="translate(1621.47 389) rotate(0.02) scale(0.9 1)" class="t" font-family='"Liberation Serif", serif' font-size="26.2">6</text>
</g>
<text transform="translate(1380.74 417.4) rotate(0.02) scale(1.0028 1)" class="u" font-family='"Liberation Serif", serif' font-size="28.3" font-style="italic">d</text>
<text transform="translate(1396.4 423.99) rotate(0.02) scale(1.3112 1.5109)" class="u" font-family='"Liberation Serif", serif' font-size="28">/</text>
<text transform="translate(1413.61 420.21) rotate(0.02) scale(0.9547 1.1348)" class="v" font-family='"DejaVu Sans", sans-serif' font-size="28">⟨</text>
<text transform="translate(1423.57 417.4) rotate(0.02) scale(0.9729 1)" class="u" font-family='"Liberation Serif", serif' font-size="28.3" font-style="italic">d</text>
<text transform="translate(1436.68 420.21) rotate(0.02) scale(1.0357 1.1348)" class="v" font-family='"DejaVu Sans", sans-serif' font-size="28">⟩</text>
<text transform="translate(1187.74 53.55) rotate(0.02) scale(1.04 1)" font-family='"Liberation Serif", serif' font-size="23.4" font-weight="bold" letter-spacing="0.28">Nebulizer</text>
<text transform="translate(1299.77 53.55) rotate(0.02) scale(1.04 1)" font-family='"Liberation Serif", serif' font-size="23.4" font-weight="bold" letter-spacing="0.35">chip</text>
<text transform="translate(1113.99 17.97) rotate(0.02) scale(1.1478 1.0034)" class="t" font-family='"Liberation Serif", serif' font-size="23">c</text>
<text transform="translate(1124.83 17.82) rotate(0.02) scale(0.8598 1.1304)" class="t" font-family='"Liberation Serif", serif' font-size="24">)</text>
<rect x="1443.2" y="42.9" width="196.3" height="115.3" rx="3" fill="#fff" fill-opacity="0.8" stroke="#d4d4d4" stroke-width="1.3"/>
<path d="M1449.8 57.5h42.5" stroke="#000" stroke-width="3" fill="none"/>
<g stroke="#000" stroke-width="1.05">
<circle cx="1470.8" cy="87.2" r="5.15" fill="#008000"/>
<path d="M1465.65 109.25L1475.95 109.25L1470.8 119.55Z" fill="#0000ff"/>
<rect x="1465.65" y="136.45" width="10.3" height="10.3" fill="#ff8c00"/>
</g>
<text transform="translate(1506.35 62.6) rotate(0.02) scale(1.1369 1)" class="u" font-family='"Liberation Serif", serif' font-size="18.2" font-weight="bold">P</text>
<text transform="translate(1519.04 64.8) rotate(0.02) scale(1.259 1)" font-family='"Liberation Serif", serif' font-size="10.6" font-weight="bold">m=20,n=8</text>
<text transform="translate(1576.7 62.91) rotate(0.02) scale(0.939 1.1029)" class="u" font-family='"Liberation Serif", serif' font-size="17">(</text>
<text transform="translate(1581.67 62.6) rotate(0.02) scale(1.0429 1)" class="u" font-family='"Liberation Serif", serif' font-size="17.3" font-weight="bold">d</text>
<text transform="translate(1592.7 66.65) rotate(0.02) scale(1.4185 1.4949)" class="u" font-family='"Liberation Serif", serif' font-size="17">/</text>
<text transform="translate(1602.52 64.38) rotate(0.02) scale(1.1727 1.1228)" class="v" font-family='"DejaVu Sans", sans-serif' font-size="17">⟨</text>
<text transform="translate(1608.61 62.6) rotate(0.02) scale(1.1231 1)" class="u" font-family='"Liberation Serif", serif' font-size="17.3" font-weight="bold">d</text>
<text transform="translate(1618.17 64.38) rotate(0.02) scale(1.1994 1.1228)" class="v" font-family='"DejaVu Sans", sans-serif' font-size="17">⟩</text>
<text transform="translate(1625.99 62.91) rotate(0.02) scale(0.939 1.1029)" class="u" font-family='"Liberation Serif", serif' font-size="17">)</text>
<text transform="translate(1506.58 92.35) rotate(0.02) scale(0.9909 1)" class="u" font-family='"Liberation Serif", serif' font-size="19.4">water</text>
<text transform="translate(1555.91 92.35) rotate(0.02) scale(0.9692 1)" class="u" font-family='"Liberation Serif", serif' font-size="19.4">meas.</text>
<text transform="translate(1606.83 92.35) rotate(0.02) scale(1.0396 1)" class="u" font-family='"Liberation Serif", serif' font-size="19.4">1</text>
<text transform="translate(1506.58 119.75) rotate(0.02) scale(0.9909 1)" class="u" font-family='"Liberation Serif", serif' font-size="19.4">water</text>
<text transform="translate(1555.91 119.75) rotate(0.02) scale(0.9692 1)" class="u" font-family='"Liberation Serif", serif' font-size="19.4">meas.</text>
<text transform="translate(1607.3 119.75) rotate(0.02) scale(1.0544 1)" class="u" font-family='"Liberation Serif", serif' font-size="19.4">2</text>
<text transform="translate(1506.58 147.25) rotate(0.02) scale(0.9909 1)" class="u" font-family='"Liberation Serif", serif' font-size="19.4">water</text>
<text transform="translate(1555.91 147.25) rotate(0.02) scale(0.9692 1)" class="u" font-family='"Liberation Serif", serif' font-size="19.4">meas.</text>
<text transform="translate(1607.25 147.25) rotate(0.02) scale(1.0232 1)" class="u" font-family='"Liberation Serif", serif' font-size="19.4">3</text>
</g>
<text transform="translate(19.3 299.33) rotate(-90.02) scale(0.9895 1)" class="t" font-family='"Liberation Serif", serif' font-size="26.7">probability</text>
<text transform="translate(19.3 175.25) rotate(-90.02) scale(0.9874 1)" class="t" font-family='"Liberation Serif", serif' font-size="26.7">density</text>
</svg>
</body>
</html>
